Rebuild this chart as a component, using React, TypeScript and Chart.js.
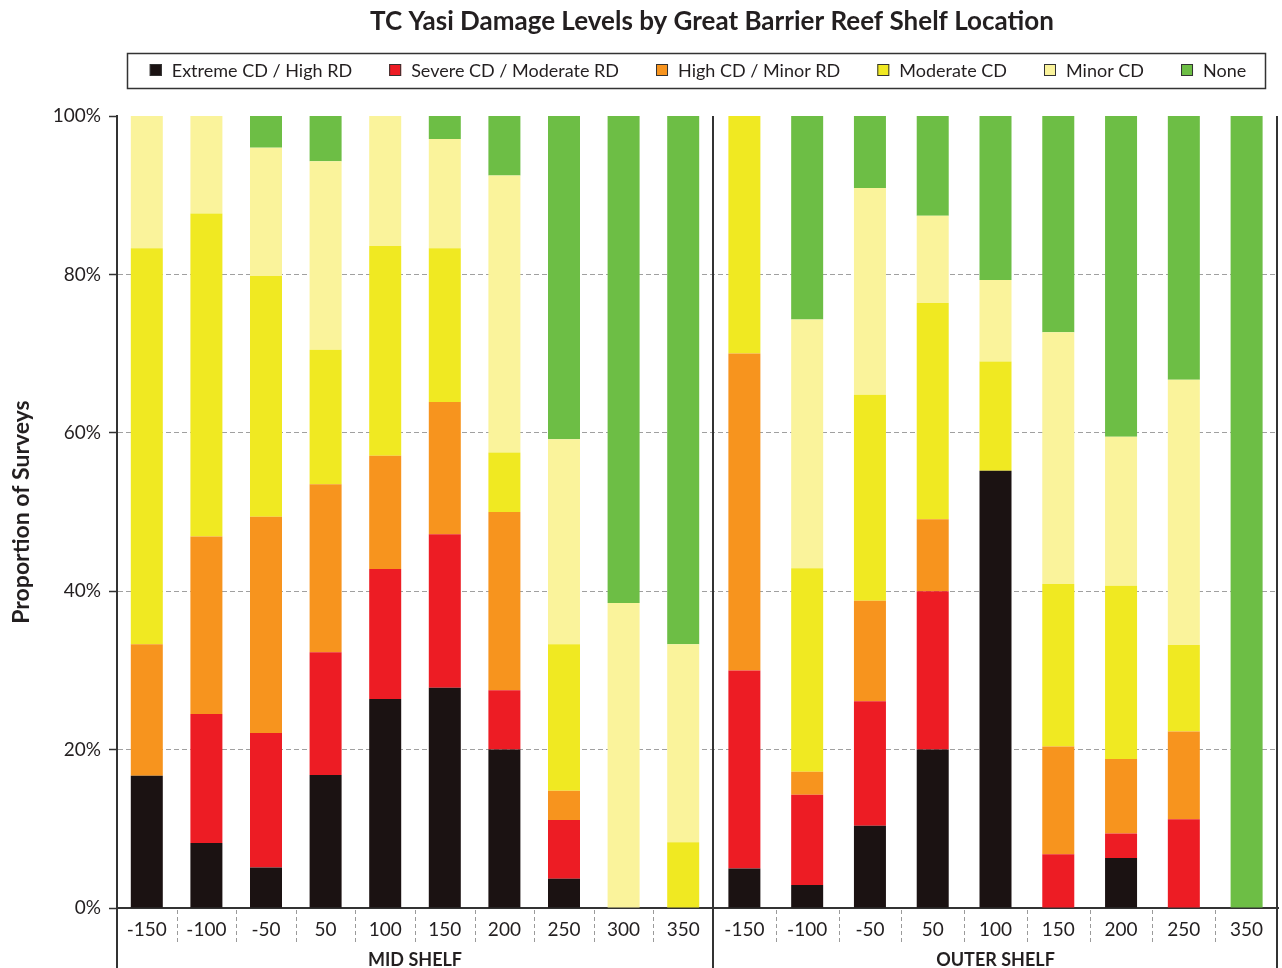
import React, { useEffect, useRef } from 'react';
import { Chart, registerables } from 'chart.js';

Chart.register(...registerables);

const TITLE = 'TC Yasi Damage Levels by Great Barrier Reef Shelf Location';
const Y_TITLE = 'Proportion of Surveys';

const midCategories = ['-150', '-100', '-50', '50', '100', '150', '200', '250', '300', '350'];
const outerCategories = ['-150', '-100', '-50', '50', '100', '150', '200', '250', '350'];
const groupNames = ['MID SHELF', 'OUTER SHELF'];

const seriesNames = [
  'Extreme CD / High RD',
  'Severe CD / Moderate RD',
  'High CD / Minor RD',
  'Moderate CD',
  'Minor CD',
  'None',
];
const seriesColors = ['#1b1212', '#ed1c24', '#f7941e', '#f0e922', '#faf39b', '#6dbe45'];

// Mid shelf values (%)
const midExtreme = [16.7, 8.2, 5.1, 16.8, 26.4, 27.8, 20.0, 3.7, 0, 0];
const midSevere = [0, 16.3, 17.0, 15.5, 16.4, 19.4, 7.5, 7.4, 0, 0];
const midHigh = [16.6, 22.4, 27.3, 21.2, 14.3, 16.7, 22.5, 3.7, 0, 0];
const midModerate = [50.0, 40.8, 30.4, 17.0, 26.5, 19.4, 7.5, 18.5, 0, 8.3];
const midMinor = [16.7, 12.3, 16.2, 23.8, 16.4, 13.8, 35.0, 25.9, 38.5, 25.0];
const midNone = [0, 0, 4.0, 5.7, 0, 2.9, 7.5, 40.8, 61.5, 66.7];

// Outer shelf values (%)
const outerExtreme = [5.0, 2.9, 10.4, 20.0, 55.2, 0, 6.3, 0, 0];
const outerSevere = [25.0, 11.4, 15.7, 20.0, 0, 6.8, 3.1, 11.2, 0];
const outerHigh = [40.0, 2.9, 12.7, 9.1, 0, 13.6, 9.4, 11.1, 0];
const outerModerate = [30.0, 25.7, 26.0, 27.3, 13.8, 20.5, 21.9, 10.9, 0];
const outerMinor = [0, 31.4, 26.1, 11.0, 10.3, 31.8, 18.8, 33.5, 0];
const outerNone = [0, 25.7, 9.1, 12.6, 20.7, 27.3, 40.5, 33.3, 100];

const midSeries = [midExtreme, midSevere, midHigh, midModerate, midMinor, midNone];
const outerSeries = [outerExtreme, outerSevere, outerHigh, outerModerate, outerMinor, outerNone];

const yTickValues = [0, 20, 40, 60, 80, 100];

const FONT = 'Lato, "Open Sans", sans-serif';
const TEXT = '#231f20';
const AXIS = '#333333';

const overlayPlugin = {
  id: 'overlay',
  afterDraw(chart: any) {
    const { ctx, chartArea: ca, scales } = chart;
    const axes = [scales.xMid, scales.xOuter];
    const H = chart.height;
    ctx.save();

    // Title
    ctx.fillStyle = TEXT;
    ctx.font = `bold 26px ${FONT}`;
    ctx.textAlign = 'center';
    ctx.textBaseline = 'middle';
    ctx.fillText(TITLE, 712, 22);

    // Legend
    ctx.font = `18px ${FONT}`;
    const box = 12, gapText = 10, gapItem = 37;
    const widths = seriesNames.map((n) => ctx.measureText(n).width);
    const total = widths.reduce((a, w) => a + box + gapText + w, 0) + gapItem * (seriesNames.length - 1);
    let lx = 698 - total / 2;
    const ly = 70;
    ctx.strokeStyle = AXIS;
    ctx.lineWidth = 1.5;
    ctx.strokeRect(127.5, 53.5, 1138, 35);
    ctx.textAlign = 'left';
    seriesNames.forEach((n, i) => {
      ctx.fillStyle = seriesColors[i];
      ctx.fillRect(lx, ly - 6, box, box);
      ctx.strokeStyle = '#333';
      ctx.lineWidth = 1;
      ctx.strokeRect(lx + 0.5, ly - 5.5, box - 1, box - 1);
      ctx.fillStyle = TEXT;
      ctx.fillText(n, lx + box + gapText, ly + 1);
      lx += box + gapText + widths[i] + gapItem;
    });

    // Y title
    ctx.save();
    ctx.translate(22, (ca.top + ca.bottom) / 2);
    ctx.rotate(-Math.PI / 2);
    ctx.font = `bold 23px ${FONT}`;
    ctx.textAlign = 'center';
    ctx.textBaseline = 'middle';
    ctx.fillStyle = TEXT;
    ctx.fillText(Y_TITLE, 0, 0);
    ctx.restore();

    // Category separators (dashed)
    ctx.strokeStyle = '#9a9a9a';
    ctx.lineWidth = 1;
    ctx.setLineDash([4, 3]);
    axes.forEach((xs: any) => {
      const n = xs.getLabels().length;
      for (let i = 1; i < n; i++) {
        const px = Math.round(xs.getPixelForValue(i - 0.5)) + 0.5;
        ctx.beginPath();
        ctx.moveTo(px, ca.bottom + 2);
        ctx.lineTo(px, ca.bottom + 34);
        ctx.stroke();
      }
    });
    ctx.setLineDash([]);

    // Solid group dividers and axis extension
    ctx.strokeStyle = AXIS;
    ctx.lineWidth = 2;
    ctx.beginPath();
    ctx.moveTo(ca.left, ca.bottom);
    ctx.lineTo(ca.left, H);
    ctx.stroke();
    axes.forEach((xs: any, gi: number) => {
      const px = gi === axes.length - 1 ? xs.right - 1 : xs.right;
      ctx.beginPath();
      ctx.moveTo(px, ca.top);
      ctx.lineTo(px, H);
      ctx.stroke();
    });

    // Group labels
    ctx.font = `bold 18px ${FONT}`;
    ctx.fillStyle = TEXT;
    ctx.textAlign = 'center';
    ctx.textBaseline = 'middle';
    axes.forEach((xs: any, gi: number) => {
      ctx.fillText(groupNames[gi], (xs.left + xs.right) / 2, 960);
    });

    ctx.restore();
  },
};

const xAxisBase = (labels: string[], weight: number) => ({
  type: 'category',
  position: 'bottom',
  stack: 'shelf',
  stackWeight: weight,
  labels,
  stacked: true,
  grid: { display: false, drawTicks: false, tickLength: 0 },
  border: { display: true, color: AXIS, width: 2 },
  ticks: {
    font: { family: FONT, size: 19 },
    color: TEXT,
    padding: 10,
    maxRotation: 0,
    autoSkip: false,
  },
  afterFit: (scale: any) => {
    scale.height = 60;
    scale.paddingLeft = 0;
    scale.paddingRight = 0;
  },
});

const MID_WEIGHT = 596;
const OUTER_WEIGHT = 565;
const BAR_PX = 32;

export default function App() {
  const ref = useRef<HTMLCanvasElement | null>(null);

  useEffect(() => {
    if (!ref.current) return;
    const datasets: any[] = [];
    seriesNames.forEach((name, i) => {
      datasets.push({
        label: name,
        data: midSeries[i],
        xAxisID: 'xMid',
        backgroundColor: seriesColors[i],
        borderWidth: 0,
        grouped: false,
        categoryPercentage: 1,
        barPercentage: BAR_PX / (MID_WEIGHT / midCategories.length),
      });
    });
    seriesNames.forEach((name, i) => {
      datasets.push({
        label: name,
        data: outerSeries[i],
        xAxisID: 'xOuter',
        backgroundColor: seriesColors[i],
        borderWidth: 0,
        grouped: false,
        categoryPercentage: 1,
        barPercentage: BAR_PX / (OUTER_WEIGHT / outerCategories.length),
      });
    });

    const chart = new Chart(ref.current, {
      type: 'bar',
      data: { datasets },
      options: {
        responsive: false,
        animation: false,
        devicePixelRatio: 1,
        layout: { padding: { top: 116, right: 4, left: 0, bottom: 0 } },
        plugins: {
          legend: { display: false },
          title: { display: false },
          tooltip: { enabled: false },
        },
        scales: {
          xMid: xAxisBase(midCategories, MID_WEIGHT) as any,
          xOuter: xAxisBase(outerCategories, OUTER_WEIGHT) as any,
          y: {
            stacked: true,
            min: 0,
            max: 100,
            afterBuildTicks: (scale: any) => { scale.ticks = yTickValues.map((v) => ({ value: v })); },
            grid: {
              color: (c: any) => (c.tick && (c.tick.value === 0 || c.tick.value === 100) ? 'rgba(0,0,0,0)' : '#a0a0a0'),
              lineWidth: 1,
              drawTicks: true,
              tickLength: 8,
              tickColor: AXIS,
              tickWidth: 1.5,
            },
            border: { display: true, color: AXIS, width: 2, dash: [5, 3] },
            ticks: {
              font: { family: FONT, size: 19 },
              color: TEXT,
              padding: 8,
              callback: (v: any) => `${v}%`,
            },
            afterFit: (scale: any) => {
              scale.width = 117;
              scale.paddingTop = 0;
              scale.paddingBottom = 0;
            },
          },
        },
      },
      plugins: [overlayPlugin],
    });
    return () => chart.destroy();
  }, []);

  return (
    <div style={{ position: 'absolute', left: 0, top: 0, width: 1282, height: 968, background: '#fff' }}>
      <canvas ref={ref} width={1282} height={968} style={{ display: 'block' }} />
    </div>
  );
}
